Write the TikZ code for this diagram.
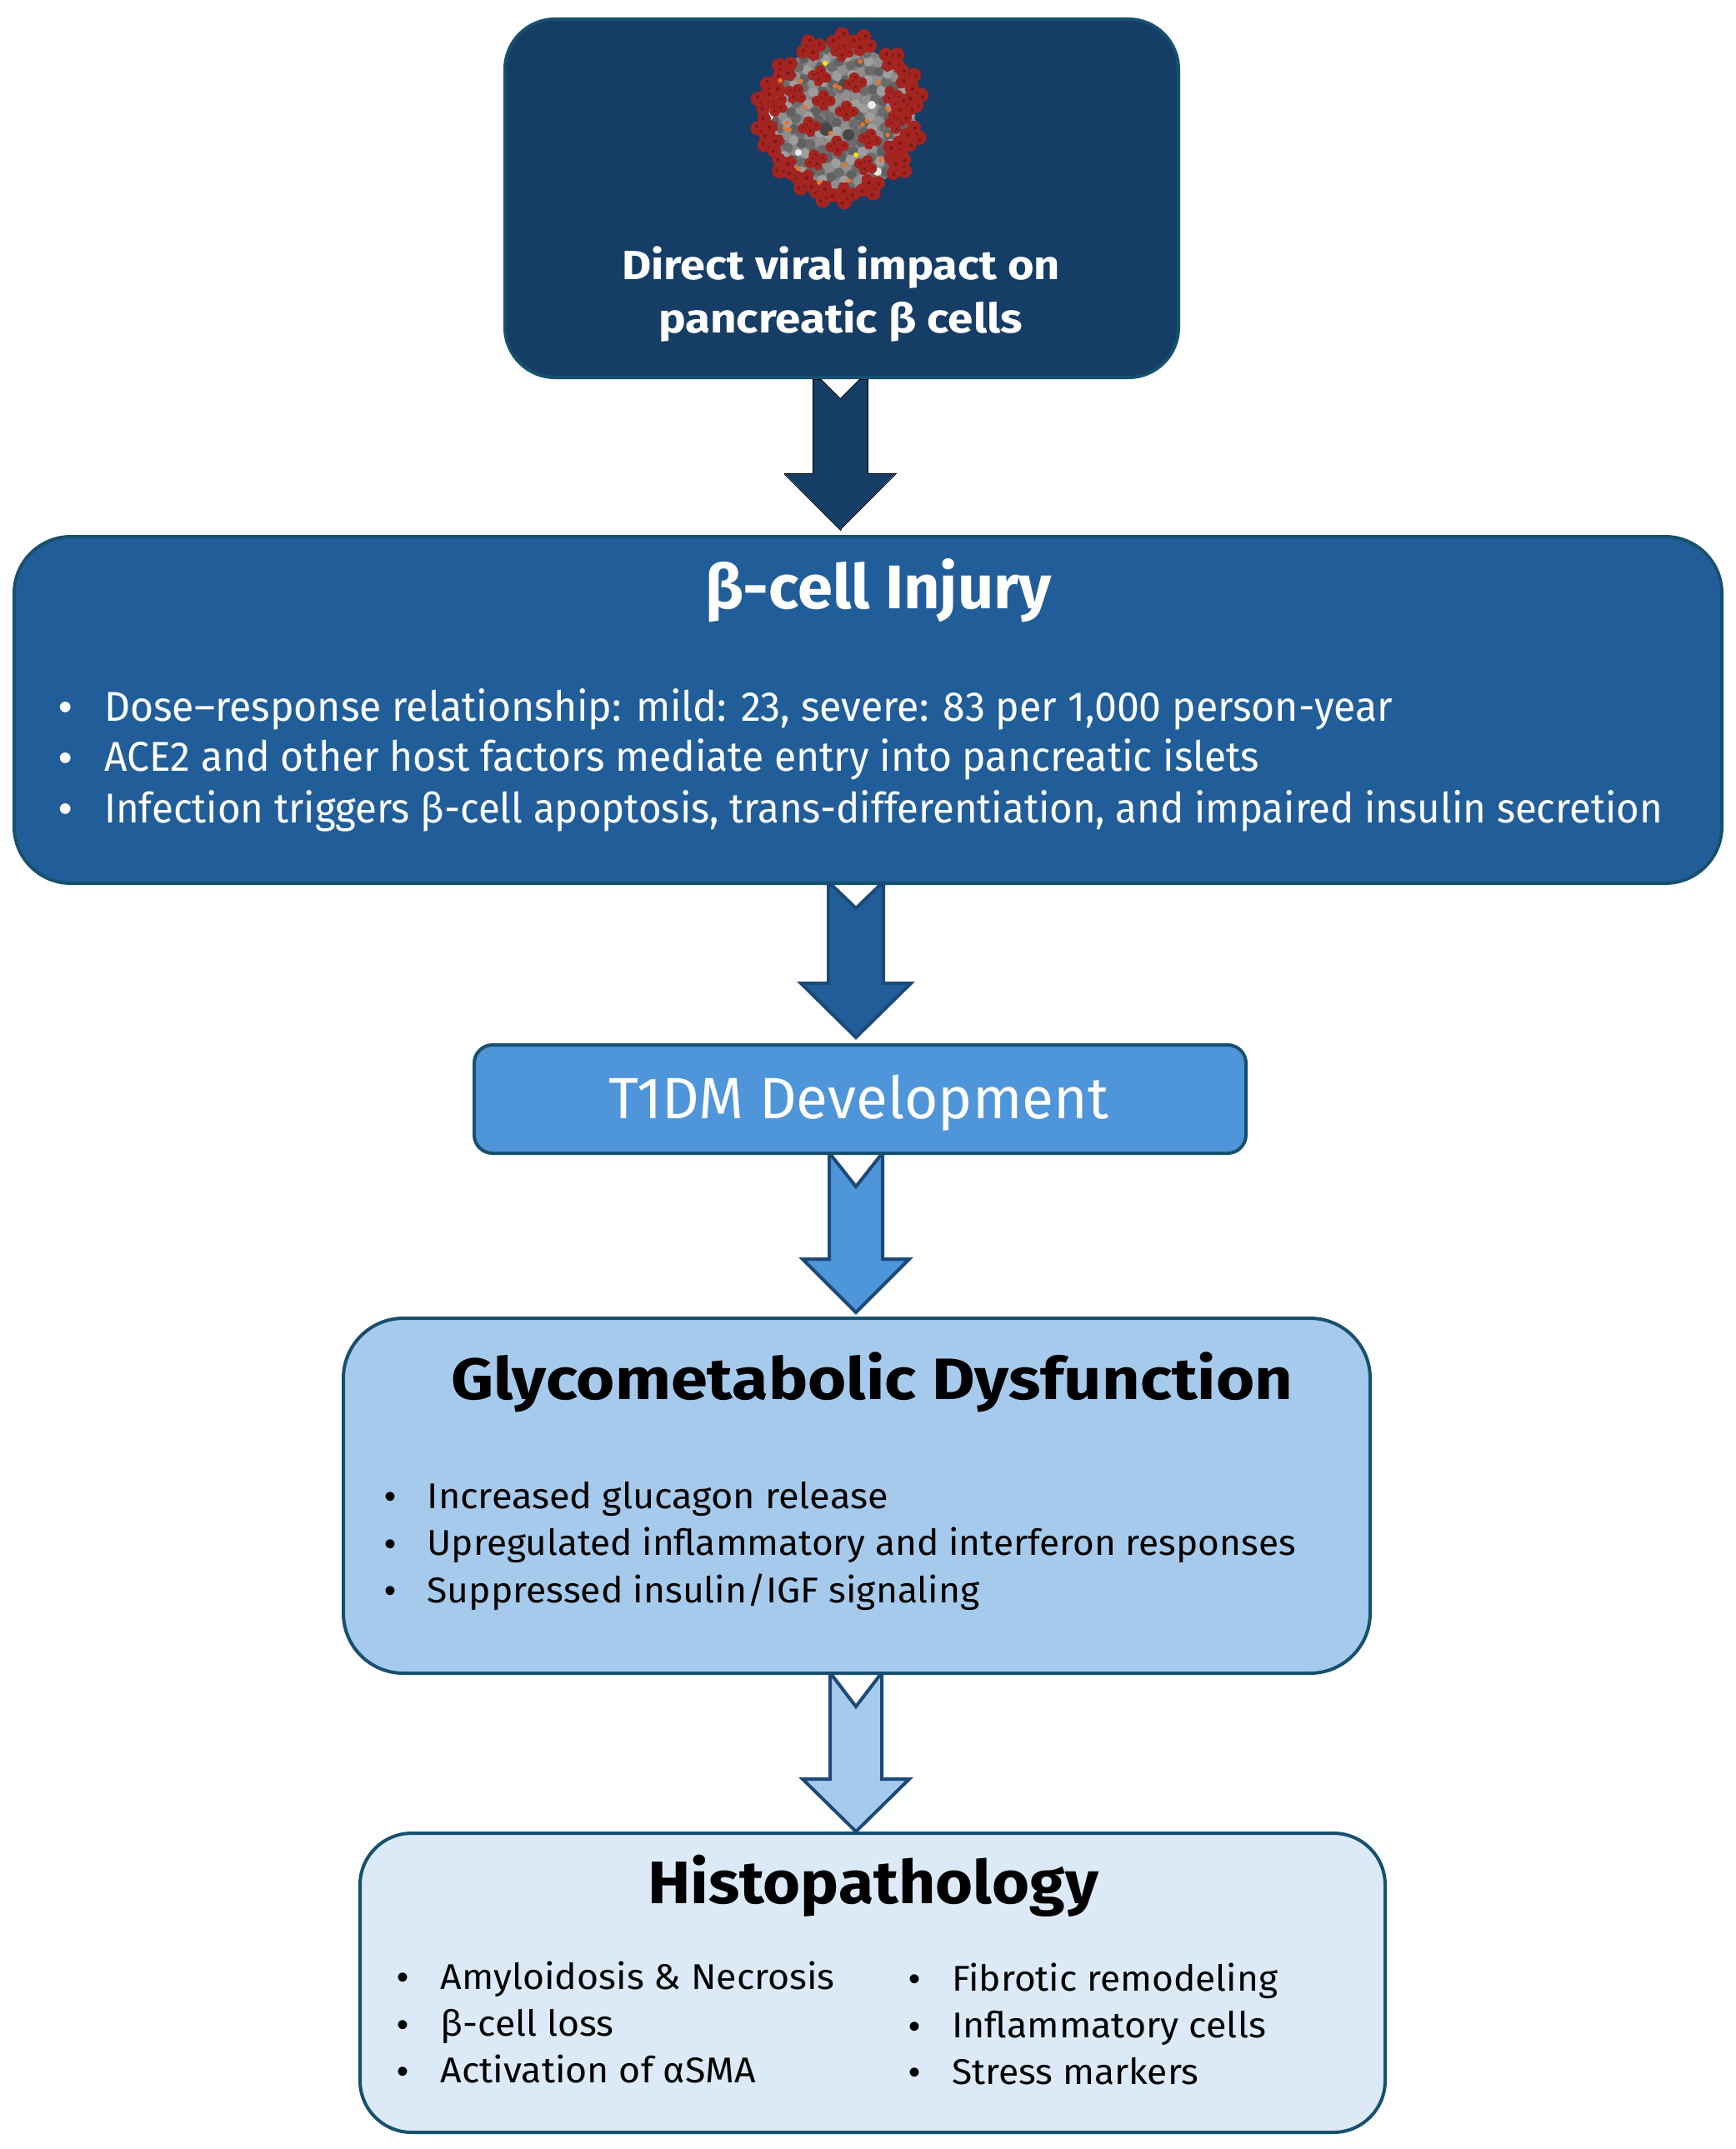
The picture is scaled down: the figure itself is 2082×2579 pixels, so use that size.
\documentclass[tikz,border=0pt]{standalone}
\usepackage{fontspec}
\usepackage{graphicx}
\setmainfont{Fira Sans}
\newfontfamily\bulletfont{Liberation Sans}
\usetikzlibrary{calc}
\definecolor{cOne}{HTML}{163D66}
\definecolor{cTwo}{HTML}{215E99}
\definecolor{cThree}{HTML}{4E95D9}
\definecolor{cFour}{HTML}{A6CAEC}
\definecolor{cFive}{HTML}{DCEAF7}
\definecolor{cEdge}{HTML}{17506E}
\definecolor{cArrowEdge}{HTML}{1C4A78}
\definecolor{cSpike}{HTML}{A32420}
\definecolor{cSpikeDark}{HTML}{7A1715}
\definecolor{cOrange}{HTML}{E8752A}
\newcommand\fitw[2]{\sbox0{#2}\pgfmathsetmacro\fitratio{#1/\the\wd0}\scalebox{\fitratio}[1]{#2}}
% style, from, to, x, half shaft, half head, head length, notch depth, notch half width, gap
\newcommand\blockarrow[9]{\draw[#1] let \p1=(#2.south), \p2=(#3.north) in
  ({#4pt-#5pt},\y1) -- ({#4pt-#9pt},\y1) -- ({#4pt},{\y1-#8pt}) -- ({#4pt+#9pt},\y1) -- ({#4pt+#5pt},\y1)
  -- ({#4pt+#5pt},{\y2+\arrowgap pt+#7pt}) -- ({#4pt+#6pt},{\y2+\arrowgap pt+#7pt})
  -- ({#4pt},{\y2+\arrowgap pt}) -- ({#4pt-#6pt},{\y2+\arrowgap pt+#7pt}) -- ({#4pt-#5pt},{\y2+\arrowgap pt+#7pt}) -- cycle;}
\newcommand\spikeblob{%
  \fill[cSpike] (-9,-3.5) -- (-9,3.5) -- (3,9) -- (3,-9) -- cycle;
  \fill[cSpike] (10,0) circle (7pt) (3,8.5) circle (6.5pt) (3,-8.5) circle (6.5pt) (3,0) circle (6pt);
  \fill[cSpikeDark] (11,2) circle (1.6pt) (4,9) circle (1.6pt) (4,-8) circle (1.6pt) (-1,0) circle (1.8pt) (7,-3) circle (1.3pt);
}
\tikzset{
  box/.style={draw=cEdge,line width=4pt,rounded corners=#1,inner sep=0pt,anchor=center},
  arrowshape/.style={line width=4pt,miter limit=10,line join=miter},
  txt/.style={inner sep=0pt,anchor=base west},
  ctr/.style={inner sep=0pt,anchor=base},
  head/.style={font=\fontsize{#1}{#1}\selectfont\bfseries},
  body/.style={font=\fontsize{#1}{#1}\selectfont},
  bulletmark/.style={inner sep=0pt,anchor=base,font=\fontsize{#1}{#1}\selectfont\bulletfont}
}
\begin{document}
\begin{tikzpicture}[x=1pt,y=-1pt]
\useasboundingbox (0,0) rectangle (2082,2579);
\fill[white] (0,0) rectangle (2082,2579);

% boxes
\node[box=60pt,fill=cOne,minimum width=808pt,minimum height=430pt] (viral) at (1010,238) {};
\node[box=68pt,fill=cTwo,minimum width=2049pt,minimum height=416pt] (injury) at (1041.5,852) {};
\node[box=22pt,fill=cThree,minimum width=926pt,minimum height=130pt] (t1dm) at (1032,1319) {};
\node[box=72pt,fill=cFour,minimum width=1232pt,minimum height=426pt] (glyco) at (1028,1795) {};
\node[box=62pt,fill=cFive,minimum width=1230pt,minimum height=359pt] (histo) at (1047,2379.5) {};

% block arrows
\def\arrowgap{6}
\blockarrow{arrowshape,line width=0pt,fill=cOne}{viral}{injury}{1008}{33}{67}{68}{23}{23}
\def\arrowgap{7}
\blockarrow{arrowshape,draw=cArrowEdge,fill=cTwo}{injury}{t1dm}{1027}{33}{66}{65}{28}{29}
\def\arrowgap{5}
\blockarrow{arrowshape,draw=cArrowEdge,fill=cThree}{t1dm}{glyco}{1027}{32}{64}{64}{38}{30}
\def\arrowgap{0}
\blockarrow{arrowshape,draw=cArrowEdge,fill=cFour}{glyco}{histo}{1027}{31}{64}{63}{38}{29}

% virus
\begin{scope}[shift={(1008,143)}]
  \fill[black!50] (0,0) circle (90pt);
  \foreach \i in {1,...,200}{
    \pgfmathsetmacro\ang{mod(\i,100)*137.508+71*floor(\i/100)}
    \pgfmathsetmacro\rad{88*sqrt(\i/200)}
    \pgfmathtruncatemacro\shade{mod(\i*7,4)}
    \ifcase\shade\def\spotc{black!58}\or\def\spotc{black!44}\or\def\spotc{black!38}\or\def\spotc{black!62}\fi
    \fill[\spotc] (\ang:\rad) circle (6pt);
  }
  \foreach \a/\b/\r/\c in {-17/12/8/black!72,10/19/7/black!72,4/-42/6/black!70,
     38/-17/5/white!85!gray,-84/-3/4/white!85!gray,-50/40/4/white!85!gray,71/25/6/white!85!gray,65/-63/5/white!85!gray,45/63/5/white!80!gray}
    {\fill[\c] (\a,\b) circle (\r pt);}
  % outer spikes
  \foreach \a/\b in {715/130,785/110,830/115,900/165,935/220,950/275,925/310,945/390,905/430,915/480,850/540,790/565,745/560,700/525,655/480,625/410,610/365,610/285,630/245,655/195}
  {
    \pgfmathsetmacro\rx{(\a-781)*0.5485*0.92}
    \pgfmathsetmacro\ry{(\b-340)*0.4209*0.92}
    \pgfmathsetmacro\spang{atan2(-\ry,\rx)}
    \begin{scope}[shift={(\rx,\ry)},rotate=\spang,scale=1.25]\spikeblob\end{scope}
  }
  % spikes seen from above
  \foreach \a/\b/\t in {735/225/80,815/245/100,680/275/60,745/295/90,890/280/20,650/305/150,795/325/90,895/350/10,715/370/100,845/405/80,775/425/95,730/465/110,835/480/70,785/155/85}
  {
    \pgfmathsetmacro\rx{(\a-781)*0.5485}
    \pgfmathsetmacro\ry{(\b-340)*0.4209}
    \begin{scope}[shift={(\rx,\ry)},rotate=\t,scale=0.95]\spikeblob\end{scope}
  }
  \foreach \a/\b in {695/232,770/245,865/235,705/305,885/310,665/350,830/355,760/380,885/385,660/365,790/470,870/455,735/520,800/515,690/480,650/230,825/175,780/250,840/345,670/370}
  {
    \pgfmathsetmacro\rx{(\a-781)*0.5485}
    \pgfmathsetmacro\ry{(\b-340)*0.4209}
    \fill[cOrange] (\rx,\ry) circle (2.8pt);
  }
  \fill[yellow!85!orange] (-18,-67) circle (3pt) (19,43) circle (3pt);
\end{scope}

% texts
\node[ctr,head=49,text=white] (v1) at (1009,335) {\fitw{526}{Direct viral impact on}};
\node[ctr,head=49,text=white] (v2) at (1008.5,399) {\fitw{437}{pancreatic β cells}};

\node[ctr,head=74,text=white] (i0) at (1054,730) {\fitw{416}{β-cell Injury}};
\node[bulletmark=47,text=white] (ib1) at (79,864) {•};
\node[bulletmark=47,text=white] (ib2) at (79,925) {•};
\node[bulletmark=47,text=white] (ib3) at (79,986) {•};
\node[txt,body=50,text=white] (i1) at (125,865) {\fitw{1546}{Dose–response relationship: mild: 23, severe: 83 per 1,000 person-year}};
\node[txt,body=50,text=white] (i2) at (125,925) {\fitw{1386}{ACE2 and other host factors mediate entry into pancreatic islets}};
\node[txt,body=50,text=white] (i3) at (125,987) {\fitw{1870}{Infection triggers β-cell apoptosis, trans-differentiation, and impaired insulin secretion}};

\node[ctr,body=70,text=white] (t0) at (1030,1342) {\fitw{600}{T1DM Development}};

\node[ctr,head=70,text=black] (g0) at (1046,1679) {\fitw{1010}{Glycometabolic Dysfunction}};
\node[bulletmark=40,text=black] (gb1) at (468,1809) {•};
\node[bulletmark=40,text=black] (gb2) at (468,1866) {•};
\node[bulletmark=40,text=black] (gb3) at (468,1922) {•};
\node[txt,body=43,text=black] (g1) at (512.5,1810) {\fitw{553}{Increased glucagon release}};
\node[txt,body=43,text=black] (g2) at (512.5,1866) {\fitw{1042}{Upregulated inflammatory and interferon responses}};
\node[txt,body=43,text=black] (g3) at (512.5,1923) {\fitw{663}{Suppressed insulin/IGF signaling}};

\node[ctr,head=72,text=black] (h0) at (1047.5,2284) {\fitw{541}{Histopathology}};
\node[bulletmark=40,text=black] (hb1) at (483,2386) {•};
\node[bulletmark=40,text=black] (hb2) at (483,2443) {•};
\node[bulletmark=40,text=black] (hb3) at (483,2499) {•};
\node[txt,body=43,text=black] (h1) at (528.5,2387) {\fitw{473}{Amyloidosis \& Necrosis}};
\node[txt,body=43,text=black] (h2) at (528.5,2443) {\fitw{208}{β-cell loss}};
\node[txt,body=43,text=black] (h3) at (528.5,2499.5) {\fitw{378}{Activation of αSMA}};
\node[bulletmark=40,text=black] (hb4) at (1097,2388) {•};
\node[bulletmark=40,text=black] (hb5) at (1097,2445) {•};
\node[bulletmark=40,text=black] (hb6) at (1097,2500) {•};
\node[txt,body=43,text=black] (h4) at (1142,2389) {\fitw{391}{Fibrotic remodeling}};
\node[txt,body=43,text=black] (h5) at (1142,2445) {\fitw{377}{Inflammatory cells}};
\node[txt,body=43,text=black] (h6) at (1142,2501) {\fitw{296}{Stress markers}};
\end{tikzpicture}
\end{document}
